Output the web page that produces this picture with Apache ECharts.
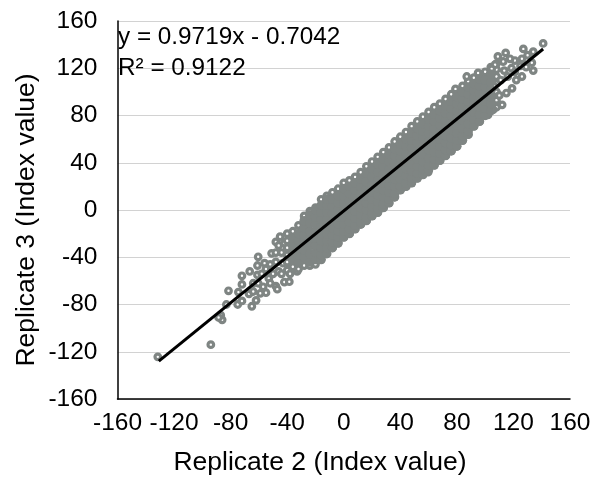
<!DOCTYPE html>
<html><head><meta charset="utf-8">
<style>html,body{margin:0;padding:0;background:#fff}#c{width:594px;height:477px}</style>
<script src="https://cdn.jsdelivr.net/npm/echarts@6/dist/echarts.min.js"></script>
</head><body><div id="c"></div>
<script>
var xTitle = 'Replicate 2 (Index value)';
var yTitle = 'Replicate 3 (Index value)';
var equation = 'y = 0.9719x - 0.7042';
var rSquared = 'R\u00b2 = 0.9122';
var trendLine = [[-130.8,-128],[141,136.3]];
var lowTail = [[-131.5,-124.3],[-94,-114],[-87,-89],[-86,-93],[-88.5,-91],[-81.5,-68.4],[-83,-80],[-75,-80],[-72,-77],[-74.5,-69.5],[-72,-63],[-72,-55.7],[-66.5,-52],[-65,-81.5],[-62,-76.5],[-67,-71],[-64,-69],[-59,-70.5],[-55,-70],[-64,-62],[-60.5,-62],[-57,-65],[-53,-58],[-48,-64.5],[-47,-67],[-42,-61],[-38.5,-60.7],[-61,-55],[-61,-47],[-60.5,-39.6],[-56,-45],[-51,-36.7],[-55,-50],[-50,-54],[-48,-27],[-45,-22.6],[-43,-45],[-40,-51],[-33,-52],[-46,-30],[-44,-36],[-42,-28],[-48,-36],[-48,-44],[-46,-52],[-52,-46],[-44,-54],[-38,-54],[-58,-54],[-52,-62]];
var highTail = [[141,141],[127,136.4],[114.5,133],[109,130],[134,134],[130,131],[126,128],[121,126.5],[117.6,128],[112.8,125.7],[107,123],[104.6,119.5],[134,118],[133,124.7],[126,113],[129,121],[122,110],[119,103],[112,89],[105.7,85],[102,80.5],[59.7,32],[125,122],[118.6,120],[113.5,118],[111,110],[116,113],[106,105],[110,97],[115,99],[104,92],[121,117],[95,116],[87,113],[79,102.5]];
var bandX = [-40,-36,-32,-28,-24,-20,-16,-12,-8,-4,0,4,8,12,16,20,24,28,32,36,40,44,48,52,56,60,64,68,72,76,80,84,88,92,96,100,104,108];
var bandY = [
 [-44,-38,-32,-26,-20],
 [-48,-42,-36,-30,-24,-18],
 [-50,-44,-38,-32,-26,-20,-13],
 [-47,-40,-34,-27,-21,-15,-9,-5],
 [-47,-44,-37,-30,-24,-18,-11,-4,-1],
 [-46,-42,-36,-30,-24,-18,-12,-6,0,2],
 [-42,-38,-32,-26,-20,-14,-8,-2,4,9],
 [-37,-32,-26,-20,-14,-8,-2,4,9,12],
 [-32,-27,-21,-15,-9,-3,3,9,15],
 [-28,-23,-18,-12,-6,0,6,12,18],
 [-23,-18,-12,-6,0,6,12,18,23],
 [-20,-16,-10,-4,2,8,14,20,25],
 [-16,-13,-7,-1,5,11,17,23,28],
 [-12,-10,-4,2,8,14,20,26,32],
 [-9,-6,0,6,12,18,24,31,37],
 [-5,-3,3,9,15,21,28,35,41],
 [-2,1,7,13,19,25,32,39,45],
 [2,5,11,17,23,30,37,43,49],
 [6,9,15,21,27,34,41,47,53],
 [11,14,20,26,32,39,46,52,58],
 [17,20,26,32,38,44,50,56,62],
 [20,23,29,35,41,48,54,60,66],
 [23,27,33,39,46,53,59,65,71],
 [27,31,37,43,50,57,63,69,75],
 [30,35,41,47,54,61,67,73,79],
 [34,38,44,51,58,65,71,77,83],
 [38,43,49,56,63,69,75,81,87],
 [42,48,54,60,66,72,78,84,90],
 [46,51,57,63,70,76,82,88,94],
 [50,55,61,68,74,80,86,92,98],
 [54,59,65,72,78,84,90,96,101],
 [59,63,69,76,82,88,94,100,105],
 [64,67,73,80,86,92,98,104,109],
 [71,77,83,89,95,101,107,112],
 [75,81,87,93,99,105,111,115],
 [80,86,92,98,104,110,117],
 [84,90,96,102,108,115,121],
 [87,93,100,107,113,119,124]
];
var ringPoints = [], corePoints = [];
bandX.forEach(function(x,i){
  bandY[i].forEach(function(y,j){
    ringPoints.push([x,y]);
    if (x >= -36 && x <= 104 && j < bandY[i].length-1 && (x >= -16 || j > 0)) corePoints.push([x,y]);
  });
});
var points = lowTail.concat(ringPoints, highTail);
var font = '"Liberation Sans", Arial, sans-serif';
var gray = '#7f8583';
var chart = echarts.init(document.getElementById('c'), null, {renderer:'canvas'});
chart.setOption({
  animation:false,
  backgroundColor:'#fff',
  grid:{left:117.5,top:21,width:452.5,height:378,containLabel:false},
  xAxis:{type:'value',min:-160,max:160,interval:40,
    axisLine:{onZero:false,lineStyle:{color:'#000',width:1.5}},axisTick:{show:false},splitLine:{show:false},
    axisLabel:{color:'#000',fontFamily:font,fontSize:24.5,margin:12,hideOverlap:false,showMinLabel:true,showMaxLabel:true,
      formatter:function(v){return String(v);}}},
  yAxis:{type:'value',min:-160,max:160,interval:40,
    axisLine:{onZero:false,lineStyle:{color:'#000',width:1.5}},axisTick:{show:false},
    splitLine:{show:true,lineStyle:{color:'#d2d2d2',width:1}},
    axisLabel:{color:'#000',fontFamily:font,fontSize:24.5,margin:20,hideOverlap:false,showMinLabel:true,showMaxLabel:true}},
  series:[
    {type:'scatter',data:points,symbol:'circle',symbolSize:5.6,z:3,
     itemStyle:{color:'#ffffff',borderColor:gray,borderWidth:3.2,opacity:1}},
    {type:'scatter',data:corePoints,symbol:'circle',symbolSize:9.4,z:3.5,silent:true,
     itemStyle:{color:gray,opacity:1}},
    {type:'line',data:trendLine,symbol:'none',z:4,silent:true,lineStyle:{color:'#000',width:3}}
  ],
  graphic:[
    {type:'text',x:320,y:463,z:10,style:{text:xTitle,font:'26.5px '+font,fill:'#000',align:'center',verticalAlign:'middle'}},
    {type:'text',x:27,y:220,rotation:Math.PI/2,z:10,style:{text:yTitle,font:'26.5px '+font,fill:'#000',align:'center',verticalAlign:'middle'}},
    {type:'text',x:118,y:37,z:10,style:{text:equation,font:'24.3px '+font,fill:'#000',align:'left',verticalAlign:'middle'}},
    {type:'text',x:118,y:68,z:10,style:{text:rSquared,font:'24.3px '+font,fill:'#000',align:'left',verticalAlign:'middle'}}
  ]
});
</script></body></html>
